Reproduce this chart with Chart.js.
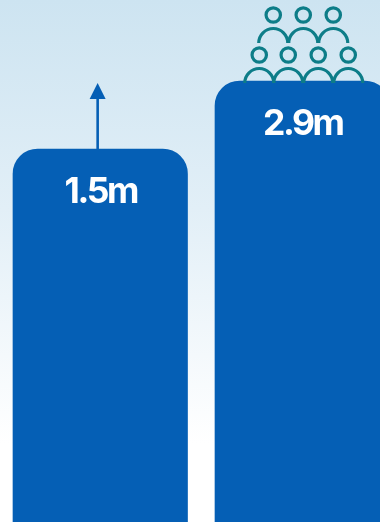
<!DOCTYPE html>
<html>
<head>
<meta charset="utf-8">
<style>
  html, body { margin: 0; padding: 0; width: 380px; height: 522px; overflow: hidden; background: #fff; }
  #wrap { position: absolute; left: -1px; top: 0; width: 405px; height: 522px; }
  #bg { position: absolute; left: 0; top: 0; width: 380px; height: 522px;
        background: linear-gradient(to bottom, #cde4f1 0%, #e2eff7 40%, #ffffff 85%); }
</style>
<script src="https://cdn.jsdelivr.net/npm/chart.js@4"></script>
</head>
<body>
<div id="bg"></div>
<div id="wrap"><canvas id="c" width="405" height="522"></canvas></div>
<script>
const categories = ['Before', 'After'];
const values = [1.5, 2.9];
const valueLabels = ['1.5m', '2.9m'];
const BLUE = '#055fb5';
const TEAL = '#0d7d88';

// Scale runs past the canvas bottom so both columns read as tall slabs.
const axisMin = -6.18;
const axisMax = 4.568;

const annotate = {
  id: 'annotate',
  afterDatasetsDraw(chart) {
    const { ctx } = chart;
    const bars = chart.getDatasetMeta(0).data;

    ctx.save();
    ctx.fillStyle = '#ffffff';
    ctx.textAlign = 'center';
    ctx.textBaseline = 'alphabetic';
    ctx.font = '700 35.5px "Inter"';
    ctx.letterSpacing = '-2.4px';
    bars.forEach((b, i) => ctx.fillText(valueLabels[i], b.x + 0.5, b.y + 54));

    // Upward arrow on the first column
    const a = bars[0];
    const ax = a.x - 2.6;
    ctx.strokeStyle = BLUE;
    ctx.lineWidth = 2.6;
    ctx.beginPath();
    ctx.moveTo(ax, a.y);
    ctx.lineTo(ax, a.y - 55);
    ctx.stroke();
    ctx.fillStyle = BLUE;
    ctx.beginPath();
    ctx.moveTo(ax, a.y - 66);
    ctx.lineTo(ax - 8, a.y - 50);
    ctx.lineTo(ax + 8, a.y - 50);
    ctx.closePath();
    ctx.fill();

    // Crowd pictogram on the second column
    const p = bars[1];
    const person = (cx, baseY) => {
      ctx.beginPath();
      ctx.arc(cx, baseY - 28, 7.2, 0, Math.PI * 2);
      ctx.stroke();
      ctx.beginPath();
      ctx.arc(cx, baseY, 14.5, Math.PI, 0);
      ctx.stroke();
    };
    ctx.strokeStyle = TEAL;
    ctx.lineWidth = 3.2;
    const lowY = p.y + 2;
    const highY = p.y - 38;
    [-43, -14, 16, 46].forEach(dx => person(p.x + dx, lowY));
    [-29, 1, 31].forEach(dx => person(p.x + dx, highY));
    ctx.restore();
  }
};

new Chart(document.getElementById('c'), {
  type: 'bar',
  data: {
    labels: categories,
    datasets: [{
      data: values,
      base: axisMin,
      backgroundColor: BLUE,
      barThickness: 174.5,
      borderSkipped: 'bottom',
      borderRadius: { topLeft: 25, topRight: 25, bottomLeft: 0, bottomRight: 0 }
    }]
  },
  options: {
    responsive: false,
    animation: false,
    layout: { padding: { left: 0.25, right: 0.75, top: 0, bottom: 0 } },
    plugins: { legend: { display: false }, tooltip: { enabled: false } },
    scales: {
      x: { display: false },
      y: { display: false, min: axisMin, max: axisMax }
    }
  },
  plugins: [annotate]
});
</script>
</body>
</html>
